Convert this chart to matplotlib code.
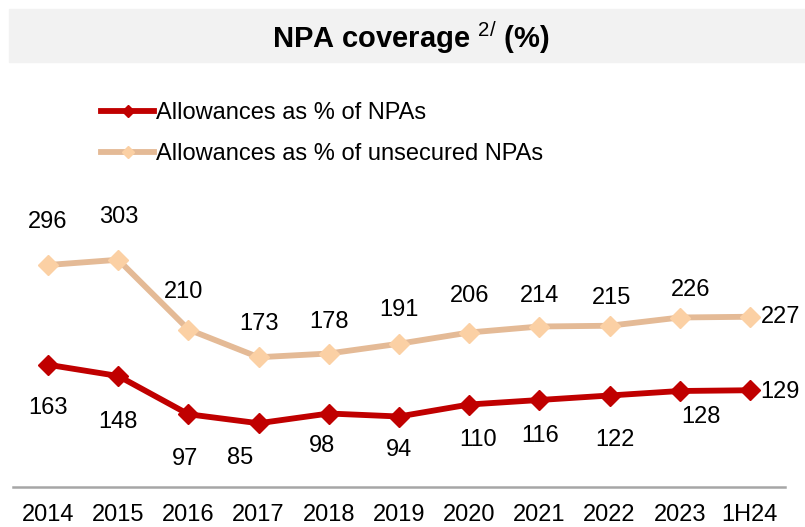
import matplotlib.pyplot as plt
from matplotlib.patches import Rectangle

# ── Data ───────────────────────────────────────────────────────
years = ["2014", "2015", "2016", "2017", "2018", "2019",
         "2020", "2021", "2022", "2023", "1H24"]
allow_npa = [163, 148, 97, 85, 98, 94, 110, 116, 122, 128, 129]
allow_unsecured = [296, 303, 210, 173, 178, 191, 206, 214, 215, 226, 227]

# label offsets (dx, dy in pixels, up is positive) to mimic the original placement
off_unsec = [(0, 43), (0, 43), (-5, 37), (0, 33), (0, 31), (0, 34),
             (0, 36), (0, 31), (2, 28), (11, 28), (31, 0)]
off_npa = [(0, -43), (0, -46), (-3, -45), (-19, -35), (-7, -33), (0, -34),
           (9, -35), (1, -36), (5, -44), (21, -26), (30, -2)]

RED = "#C00000"
TAN = "#E4BA96"
PEACH = "#FBD0A4"
FONT = "Liberation Sans"

plt.rcParams["font.family"] = [FONT, "DejaVu Sans"]
plt.rcParams["mathtext.fontset"] = "custom"
plt.rcParams["mathtext.rm"] = FONT

W, H = 805, 527
fig = plt.figure(figsize=(W / 100, H / 100), dpi=100)

# ── Title band ─────────────────────────────────────────────────
fig.patches.append(Rectangle((9 / W, 1 - 62 / H), 796 / W, 53 / H,
                             transform=fig.transFigure, color="#F2F2F2", zorder=0))
fig.text(411 / W, 1 - 38 / H, r"NPA coverage $^{\mathrm{2/}}$ (%)",
         ha="center", va="center", fontsize=21, fontweight="bold")

# ── Axes ───────────────────────────────────────────────────────
ax = fig.add_axes([13 / W, 40 / H, 772 / W, 307 / H])
x = list(range(len(years)))

ax.plot(x, allow_npa, color=RED, lw=4.2, marker="D", ms=10,
        mfc=RED, mec=RED, label="Allowances as % of NPAs", zorder=3)
ax.plot(x, allow_unsecured, color=TAN, lw=4.2, marker="D", ms=10,
        mfc=PEACH, mec=PEACH, label="Allowances as % of unsecured NPAs", zorder=3)

for xi, v, (dx, dy) in zip(x, allow_unsecured, off_unsec):
    ax.annotate(str(v), (xi, v), xytext=(dx * 0.72, dy * 0.72),
                textcoords="offset points", ha="center", va="center", fontsize=17)
for xi, v, (dx, dy) in zip(x, allow_npa, off_npa):
    ax.annotate(str(v), (xi, v), xytext=(dx * 0.72, dy * 0.72),
                textcoords="offset points", ha="center", va="center", fontsize=17)

ax.set_xlim(-0.5, len(years) - 0.5)
ax.set_ylim(0, 307 / 0.75)
ax.set_xticks(x)
ax.set_xticklabels(years, fontsize=17)
ax.set_yticks([])
ax.tick_params(axis="x", length=0, pad=12)
for side in ["top", "left", "right"]:
    ax.spines[side].set_visible(False)
ax.spines["bottom"].set_color("#A6A6A6")
ax.spines["bottom"].set_linewidth(1.8)
ax.patch.set_alpha(0)

fig.legend(loc="upper left", bbox_to_anchor=(101 / W, 1 - 102 / H),
           frameon=False, fontsize=17, handlelength=2.25, handletextpad=0.1,
           labelspacing=0.82, borderpad=0, borderaxespad=0, markerscale=0.65)

fig.savefig("out.png", dpi=100)
